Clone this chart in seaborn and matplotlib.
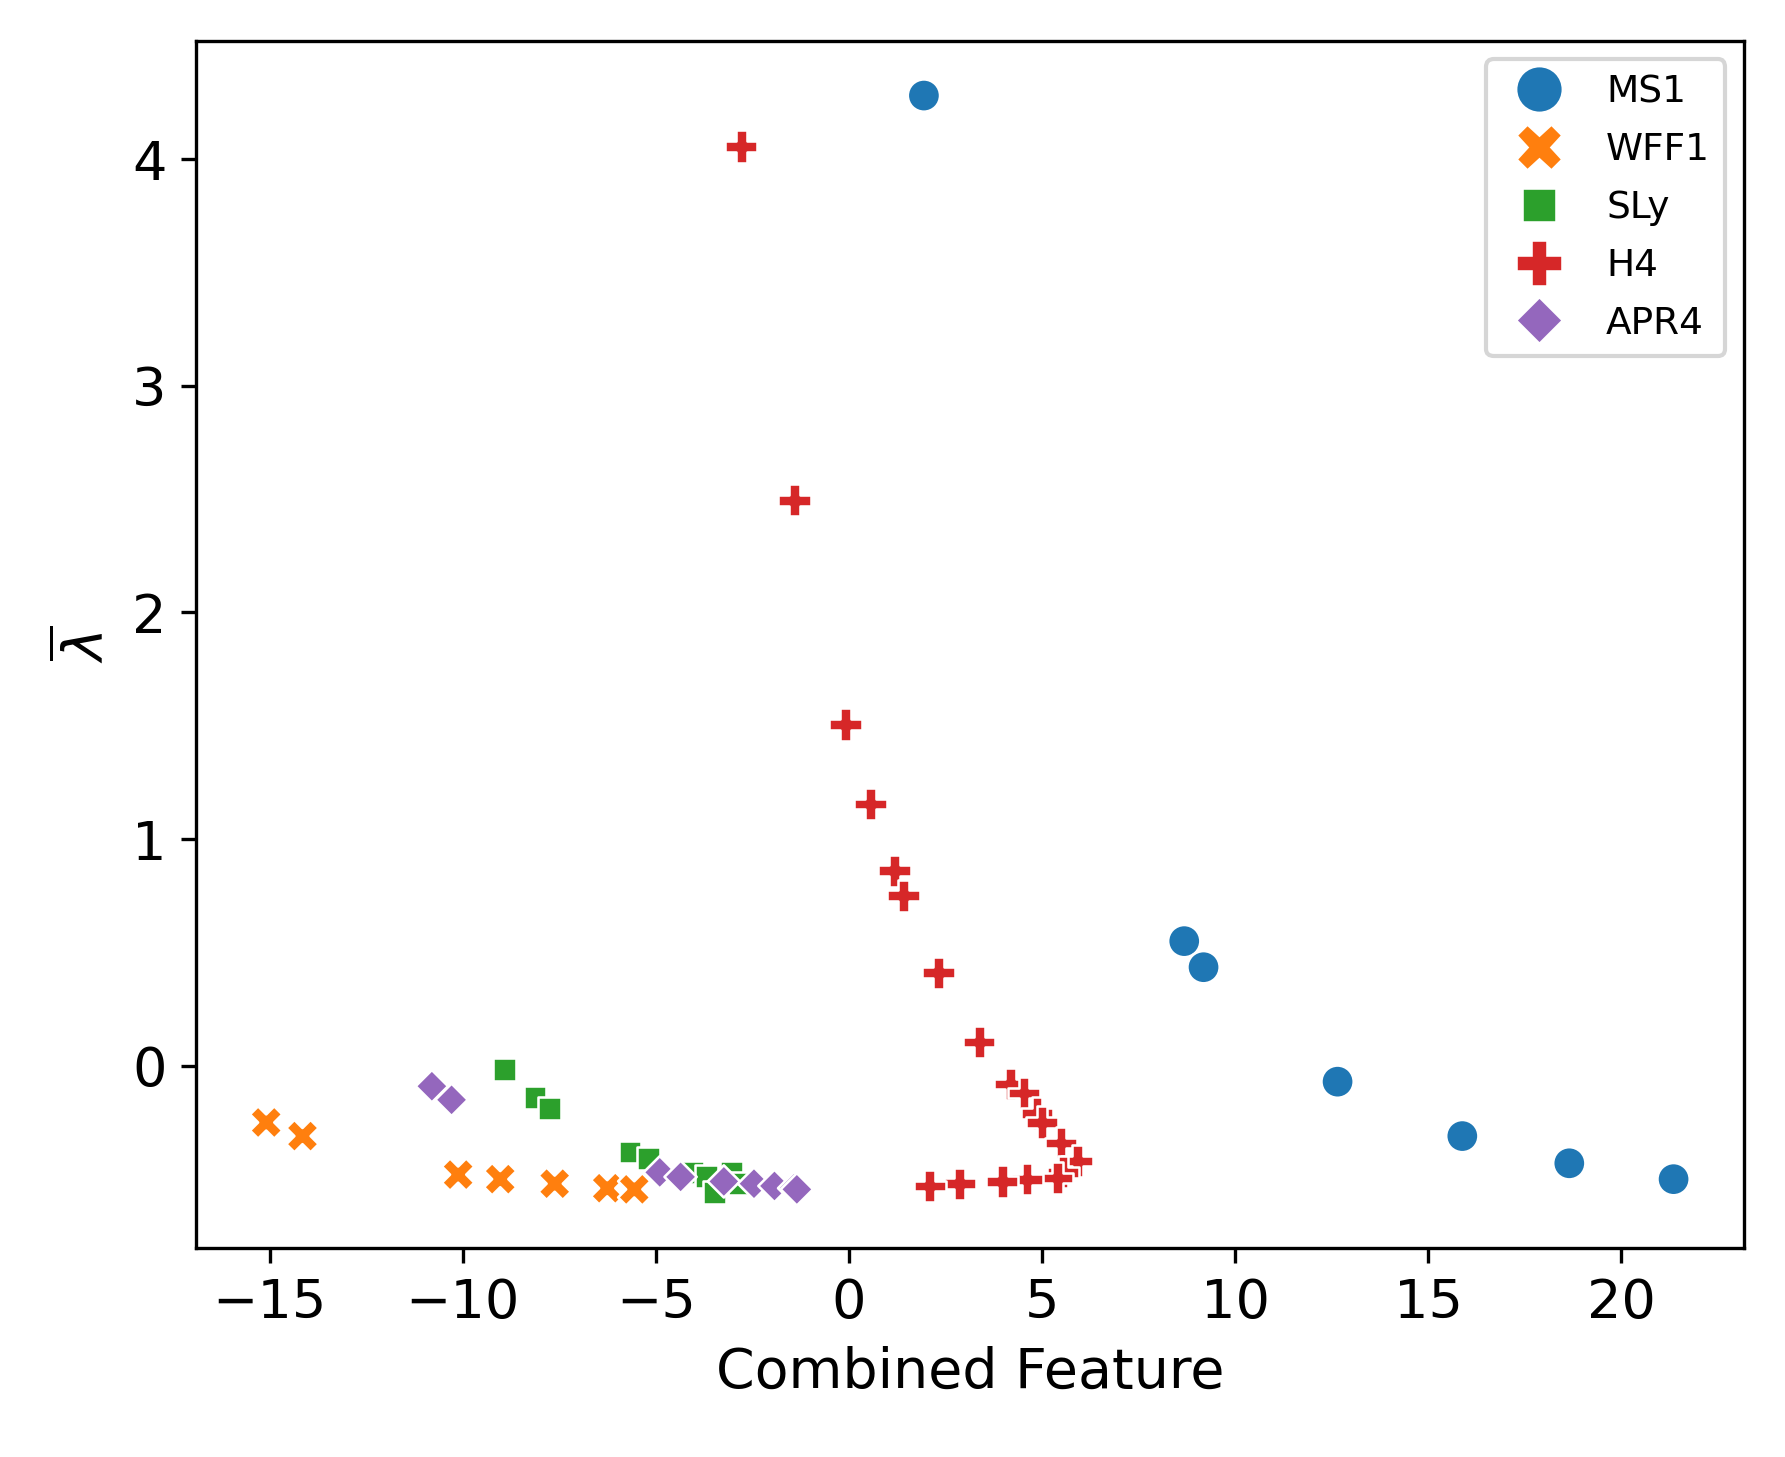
import numpy as np
import pandas as pd
import matplotlib
matplotlib.use("Agg")
import matplotlib.pyplot as plt
import seaborn as sn

# values, one list per equation of state
eos_names = ["MS1", "WFF1", "SLy", "H4", "APR4"]

ms1_x = [1.94, 8.68, 9.18, 12.65, 15.88, 18.65, 21.35]
ms1_y = [4.28, 0.55, 0.435, -0.07, -0.31, -0.43, -0.50]

wff1_x = [-15.09, -14.15, -10.12, -9.03, -7.62, -6.26, -5.56]
wff1_y = [-0.25, -0.31, -0.48, -0.50, -0.52, -0.54, -0.545]

sly_x = [-8.92, -8.13, -7.76, -5.67, -5.20, -4.05, -3.70, -3.48, -3.05, -2.83]
sly_y = [-0.015, -0.14, -0.19, -0.38, -0.41, -0.47, -0.49, -0.56, -0.47, -0.52]

h4_x = [-2.79, -1.41, -0.09, 0.56, 1.18, 1.41, 2.32, 3.37, 4.18, 4.53,
        4.87, 5.00, 5.49, 5.91, 5.54, 5.39, 4.61, 3.97, 2.87, 2.09]
h4_y = [4.055, 2.495, 1.505, 1.155, 0.86, 0.75, 0.41, 0.105, -0.08, -0.12,
        -0.21, -0.25, -0.34, -0.42, -0.47, -0.495, -0.50, -0.51, -0.52, -0.53]

apr4_x = [-10.80, -10.29, -4.90, -4.36, -3.24, -2.46, -1.93, -1.42, -1.35]
apr4_y = [-0.09, -0.15, -0.47, -0.49, -0.51, -0.52, -0.53, -0.54, -0.545]


def build_frame():
    xs = [ms1_x, wff1_x, sly_x, h4_x, apr4_x]
    ys = [ms1_y, wff1_y, sly_y, h4_y, apr4_y]
    parts = []
    for name, x, y in zip(eos_names, xs, ys):
        parts.append(pd.DataFrame({"feature": x, "lam": y, "EOS": name}))
    return pd.concat(parts, ignore_index=True)


def main():
    df = build_frame()

    plt.figure(figsize=(5.95, 4.857), dpi=300)
    ax = sn.scatterplot(data=df, x="feature", y="lam", hue="EOS", style="EOS", s=60)
    plt.xlabel("Combined Feature", fontsize=13.3)
    plt.ylabel(r"$\overline{\lambda}$", fontsize=13.3)
    plt.xticks(fontsize=13)
    plt.yticks(fontsize=13)
    ax.legend(loc="upper right", fontsize=9, markerscale=1.45, labelspacing=0.58)
    plt.subplots_adjust(left=0.1097, right=0.977, top=0.972, bottom=0.1437)
    plt.savefig("out.png", dpi=300)


main()
